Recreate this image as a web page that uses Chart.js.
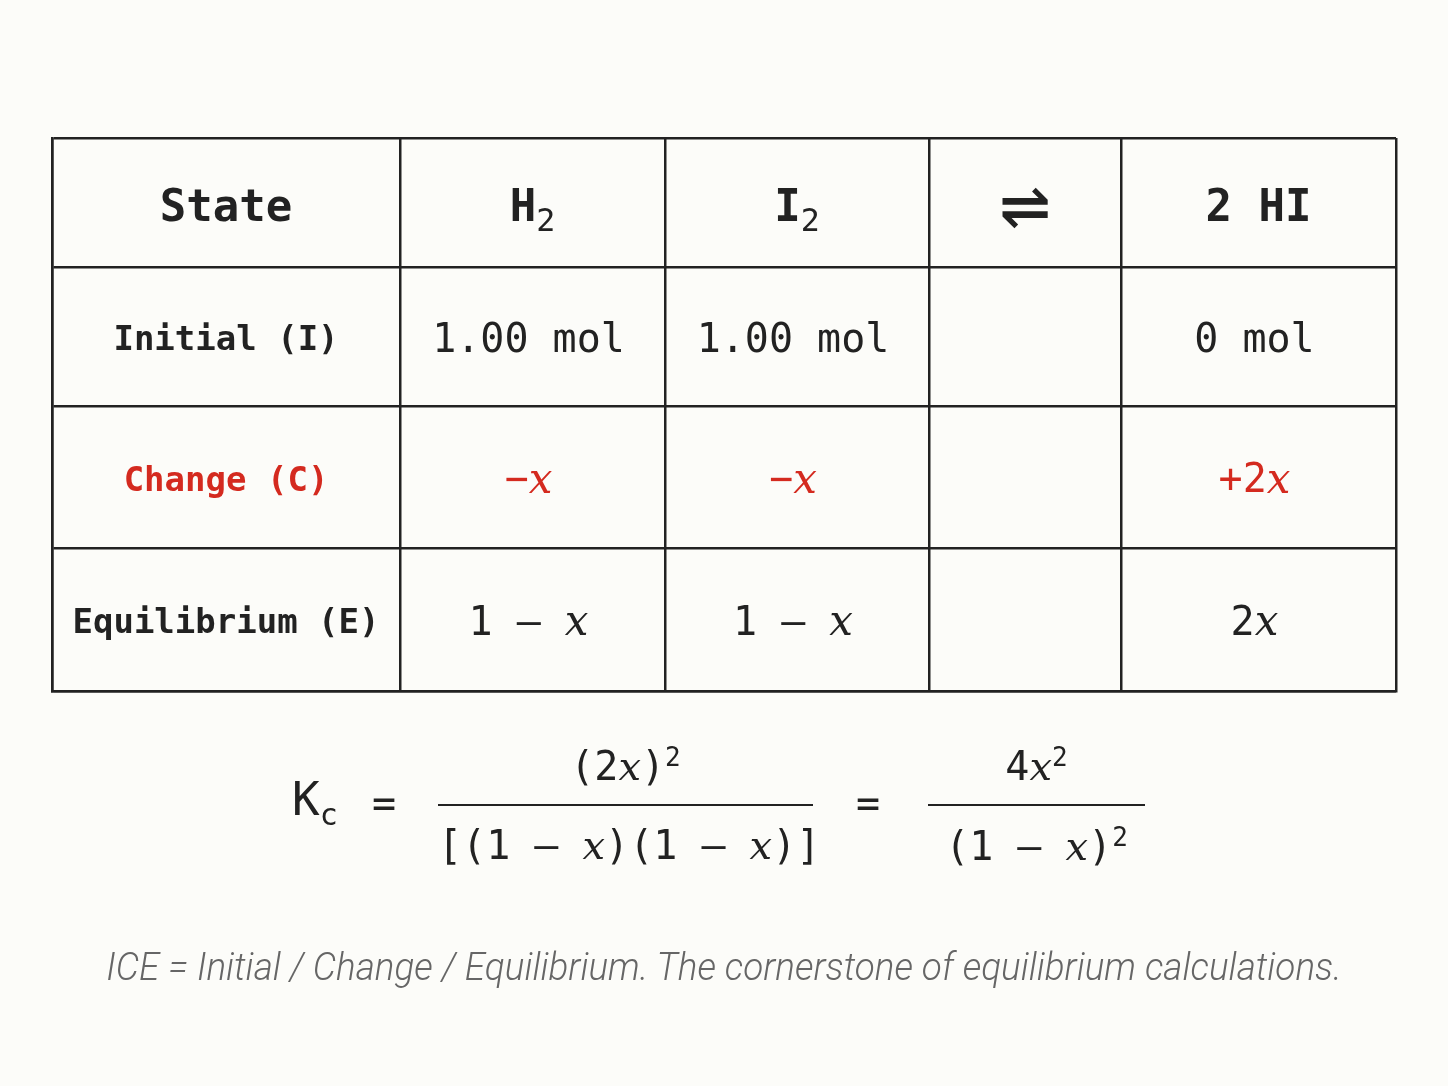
<!DOCTYPE html>
<html><head><meta charset="utf-8">
<script src="https://cdn.jsdelivr.net/npm/chart.js@4"></script>
<style>
html,body{margin:0;padding:0;background:#fcfcf9;width:1448px;height:1086px;overflow:hidden}
#wrap{position:absolute;left:0;top:0;width:1448px;height:1086px}
.m{font-family:"DejaVu Sans Mono",monospace;color:#222;position:absolute;white-space:nowrap}
.x{font-family:"DejaVu Serif",serif;font-style:italic}
.hl{position:absolute;height:2px;background:#222}
#cap{position:absolute;left:0;width:1448px;top:945px;text-align:center;font-family:Roboto,sans-serif;font-style:italic;font-weight:300;font-size:38px;color:#666;transform:scaleX(0.97)}
</style></head><body>
<div id="wrap"><canvas id="c" width="1448" height="1086"></canvas></div>
<div class="m" style="left:292px;top:772px;font-size:46px">K<sub style="font-size:30px">c</sub></div>
<div class="m" style="left:372px;top:780px;font-size:40px">=</div>
<div class="m" style="left:438px;width:375px;text-align:center;top:742px;font-size:40px">(2<span class="x">x</span>)<sup style="font-size:26px">2</sup></div>
<div class="hl" style="left:438px;width:375px;top:804px"></div>
<div class="m" style="left:438px;width:375px;text-align:center;top:822px;font-size:40px">[(1 – <span class="x">x</span>)(1 – <span class="x">x</span>)]</div>
<div class="m" style="left:856px;top:780px;font-size:40px">=</div>
<div class="m" style="left:928px;width:217px;text-align:center;top:742px;font-size:40px">4<span class="x">x</span><sup style="font-size:26px">2</sup></div>
<div class="hl" style="left:928px;width:217px;top:804px"></div>
<div class="m" style="left:928px;width:217px;text-align:center;top:822px;font-size:40px">(1 – <span class="x">x</span>)<sup style="font-size:26px">2</sup></div>
<div id="cap">ICE = Initial / Change / Equilibrium. The cornerstone of equilibrium calculations.</div>
<script>
const colBounds=[0,348,613,877,1069,1344];
const rowBounds=[0,129,268,410,553];
const headers=["State","H_2","I_2","⇌","2 HI"];
const rowLabels=["Initial (I)","Change (C)","Equilibrium (E)"];
const initialRow=["1.00 mol","1.00 mol","","0 mol"];
const changeRow=["−*x*","−*x*","","+2*x*"];
const equilRow=["1 – *x*","1 – *x*","","2*x*"];
const rows=[initialRow,changeRow,equilRow];
const rowColors=["#222","#d42a1f","#222"];

function parse(s){const out=[];let i=0;while(i<s.length){const c=s[i];
 if(c==='*'){const j=s.indexOf('*',i+1);out.push({t:s.slice(i+1,j),k:'it'});i=j+1;}
 else if(c==='_'){out.push({t:s[i+1],k:'sub'});i+=2;}
 else {let j=i;while(j<s.length&&'*_'.indexOf(s[j])<0)j++;out.push({t:s.slice(i,j),k:'n'});i=j;}}
 return out;}
function fontFor(k,size,bold){const b=bold?'bold ':'';
 if(k==='it')return `italic ${size*1.05}px "DejaVu Serif"`;
 if(k==='sub')return `${size*0.72}px "DejaVu Sans Mono"`;
 return `${b}${size}px "DejaVu Sans Mono"`;}
function drawRich(ctx,s,cx,cy,size,bold,color){const segs=parse(s);ctx.save();ctx.fillStyle=color;ctx.textBaseline='middle';ctx.textAlign='left';
 let w=0;segs.forEach(g=>{ctx.font=fontFor(g.k,size,bold);g.w=ctx.measureText(g.t).width;w+=g.w;});
 let x=cx-w/2;segs.forEach(g=>{ctx.font=fontFor(g.k,size,bold);ctx.fillText(g.t,x,cy+(g.k==='sub'?size*0.3:0));x+=g.w;});ctx.restore();}

const tablePlugin={id:'tbl',afterDraw(ch){const ctx=ch.ctx,xs=ch.scales.x,ys=ch.scales.y;
 const cxp=i=>(xs.getPixelForValue(colBounds[i])+xs.getPixelForValue(colBounds[i+1]))/2;
 const cyp=i=>(ys.getPixelForValue(rowBounds[i])+ys.getPixelForValue(rowBounds[i+1]))/2+5;
 headers.forEach((h,i)=>drawRich(ctx,h,cxp(i),cyp(0)+2,h==='⇌'?84:44,h!=='⇌','#222'));
 rowLabels.forEach((l,r)=>{drawRich(ctx,l,cxp(0),cyp(r+1),34,true,rowColors[r]);
  rows[r].forEach((v,c)=>{if(v)drawRich(ctx,v,cxp(c+1)-4,cyp(r+1),40,false,rowColors[r]);});});}};

new Chart(document.getElementById('c'),{type:'scatter',data:{datasets:[{data:[]}]},
 options:{responsive:false,animation:false,events:[],layout:{padding:{left:52,right:52,top:138,bottom:395}},
 plugins:{legend:{display:false},tooltip:{enabled:false}},
 scales:{x:{type:'linear',min:0,max:1344,afterBuildTicks:a=>{a.ticks=colBounds.map(v=>({value:v}))},
   ticks:{display:false},grid:{color:'#222',lineWidth:2.5,drawTicks:false},border:{color:'#222',width:2.5}},
  y:{type:'linear',reverse:true,min:0,max:553,afterBuildTicks:a=>{a.ticks=rowBounds.map(v=>({value:v}))},
   ticks:{display:false},grid:{color:'#222',lineWidth:2.5,drawTicks:false},border:{color:'#222',width:2.5}}}},
 plugins:[tablePlugin]});
</script></body></html>
